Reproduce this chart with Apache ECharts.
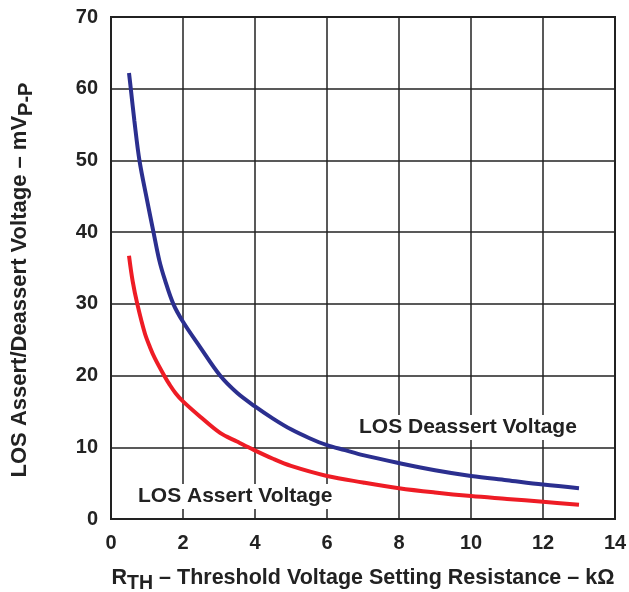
<!DOCTYPE html>
<html><head><meta charset="utf-8">
<script src="https://cdn.jsdelivr.net/npm/echarts@6/dist/echarts.min.js"></script>
<style>html,body{margin:0;padding:0;background:#fff}#c{width:629px;height:592px}</style>
</head><body><div id="c"></div>
<script>
var deassertX = [0.5, 0.55, 0.65, 0.79, 1.0, 1.18, 1.34, 1.5, 1.73, 2.0, 2.47, 3.03, 3.5, 4.0, 4.5, 5.0, 5.5, 6.0, 6.5, 7.0, 8.0, 9.0, 10.0, 11.0, 12.0, 13.0];
var deassertY = [62.2, 60.0, 55.5, 50.0, 44.5, 40.0, 36.1, 33.3, 30.0, 27.5, 24.0, 20.0, 17.6, 15.7, 14.0, 12.5, 11.3, 10.3, 9.6, 8.9, 7.8, 6.8, 6.0, 5.4, 4.8, 4.3];
var assertX = [0.5, 0.6, 0.73, 0.94, 1.08, 1.22, 1.5, 1.62, 1.8, 2.0, 2.47, 3.03, 3.5, 3.86, 4.5, 5.0, 6.0, 7.0, 8.0, 9.0, 10.0, 11.0, 12.0, 13.0];
var assertY = [36.7, 33.2, 30.0, 25.9, 24.0, 22.4, 19.8, 18.8, 17.5, 16.4, 14.3, 12.0, 10.8, 9.9, 8.4, 7.4, 6.0, 5.1, 4.3, 3.7, 3.2, 2.8, 2.4, 2.0];
var xTicks = [0, 2, 4, 6, 8, 10, 12, 14];
var yTicks = [0, 10, 20, 30, 40, 50, 60, 70];
function pairs(xs, ys){ return xs.map(function(x,i){return [x, ys[i]];}); }

var chart = echarts.init(document.getElementById('c'));
var txt = '#222';
var font = '"Liberation Sans", Arial, sans-serif';
function richName(size){
  return {
    n: {fontSize: size, fontWeight: 'bold', color: txt, fontFamily: font, verticalAlign: 'top', padding: [0,0,7,0]},
    s: {fontSize: size - 2, fontWeight: 'bold', color: txt, fontFamily: font, verticalAlign: 'top', padding: [7,0,0,0]},
    g: {width: 24, fontSize: size}
  };
}
chart.setOption({
  backgroundColor: '#fff',
  animation: false,
  textStyle: {fontFamily: font},
  grid: {left: 111, right: 14, top: 17, bottom: 73, containLabel: false, outerBoundsMode: 'none',
         show: true, borderColor: '#222', borderWidth: 2},
  xAxis: {
    type: 'value', min: xTicks[0], max: xTicks[xTicks.length-1], interval: 2,
    axisLine: {show: true, lineStyle: {color: '#222', width: 2}},
    axisTick: {show: false},
    splitLine: {show: true, lineStyle: {color: '#222', width: 1.5}},
    axisLabel: {color: txt, fontSize: 20, fontWeight: 'bold', margin: 14, fontFamily: font},
    name: '{n|R}{s|TH}{n| – Threshold Voltage Setting Resistance – kΩ}',
    nameLocation: 'middle', nameGap: 48,
    nameTextStyle: {rich: richName(21.5)}
  },
  yAxis: {
    type: 'value', min: yTicks[0], max: yTicks[yTicks.length-1], interval: 10,
    axisLine: {show: true, lineStyle: {color: '#222', width: 2}},
    axisTick: {show: false},
    splitLine: {show: true, lineStyle: {color: '#222', width: 1.5}},
    axisLabel: {color: txt, fontSize: 20, fontWeight: 'bold', margin: 13, fontFamily: font},
    name: '{n|LOS Assert/Deassert Voltage – mV}{s|P-P}{g|}',
    nameLocation: 'middle', nameGap: 73, nameRotate: 90,
    nameTextStyle: {rich: richName(22)}
  },
  series: [
    {name: 'LOS Deassert Voltage', type: 'line', smooth: 0.35, showSymbol: false,
     lineStyle: {color: '#2B2F8F', width: 4}, data: pairs(deassertX, deassertY)},
    {name: 'LOS Assert Voltage', type: 'line', smooth: 0.35, showSymbol: false,
     lineStyle: {color: '#EE1C25', width: 4}, data: pairs(assertX, assertY)}
  ],
  graphic: [
    {type: 'text', left: 136, top: 484, z: 100,
     style: {text: 'LOS Assert Voltage', fill: txt, font: 'bold 21px ' + font, backgroundColor: '#fff', padding: [2,2,2,2]}},
    {type: 'text', left: 357, top: 415, z: 100,
     style: {text: 'LOS Deassert Voltage', fill: txt, font: 'bold 21px ' + font, backgroundColor: '#fff', padding: [2,2,2,2]}}
  ]
});
</script></body></html>
